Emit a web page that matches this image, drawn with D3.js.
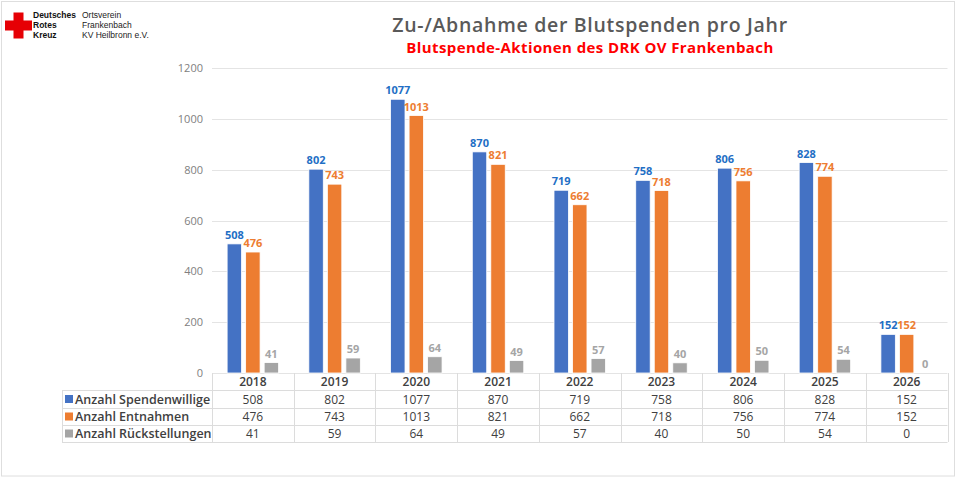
<!DOCTYPE html>
<html>
<head>
<meta charset="utf-8">
<script src="https://cdn.jsdelivr.net/npm/d3@7"></script>
<style>
  body { margin: 0; background: #fff; }
  svg { display: block; font-family: "Open Sans", sans-serif; }
</style>
</head>
<body>
<div id="chart"></div>
<script>
// data
var years = ["2018", "2019", "2020", "2021", "2022", "2023", "2024", "2025", "2026"];
var spendenwillige = [508, 802, 1077, 870, 719, 758, 806, 828, 152];
var entnahmen = [476, 743, 1013, 821, 662, 718, 756, 774, 152];
var rueckstellungen = [41, 59, 64, 49, 57, 40, 50, 54, 0];
var seriesNames = ["Anzahl Spendenwillige", "Anzahl Entnahmen", "Anzahl Rückstellungen"];
var yTicks = [0, 200, 400, 600, 800, 1000, 1200];

var width = 960, height = 478;
var barColors = ["#4472c4", "#ed7d31", "#a5a5a5"];
var labelColors = ["#1f6fc5", "#ed7d31", "#a5a5a5"];

var series = [spendenwillige, entnahmen, rueckstellungen];

var svg = d3.select("#chart").append("svg")
    .attr("width", width)
    .attr("height", height);

// outer frame
svg.append("rect")
    .attr("x", 1.5).attr("y", 1.5)
    .attr("width", 953).attr("height", 474.5)
    .attr("fill", "#fff")
    .attr("stroke", "#dedede");

// logo
var logo = svg.append("g");
logo.append("rect").attr("x", 5).attr("y", 20.5).attr("width", 27).attr("height", 10).attr("fill", "#e60005");
logo.append("rect").attr("x", 13.5).attr("y", 12.5).attr("width", 10).attr("height", 26).attr("fill", "#e60005");
var logoLeft = ["Deutsches", "Rotes", "Kreuz"];
var logoRight = ["Ortsverein", "Frankenbach", "KV Heilbronn e.V."];
logo.selectAll("text.l").data(logoLeft).join("text")
    .attr("x", 33).attr("y", (d, i) => 18 + i * 10)
    .style("font-family", "'Liberation Sans', Arial, sans-serif")
    .style("font-size", "8.5px").style("font-weight", "bold").attr("fill", "#111")
    .text(d => d);
logo.selectAll("text.r").data(logoRight).join("text")
    .attr("x", 82).attr("y", (d, i) => 18 + i * 10)
    .style("font-family", "'Liberation Sans', Arial, sans-serif")
    .style("font-size", "8.5px").attr("fill", "#222")
    .text(d => d);

// titles
svg.append("text")
    .attr("x", 590).attr("y", 32)
    .attr("text-anchor", "middle")
    .style("font-size", "19.5px").style("font-weight", 600)
    .style("letter-spacing", "0.7px")
    .attr("fill", "#595959")
    .text("Zu-/Abnahme der Blutspenden pro Jahr");
svg.append("text")
    .attr("x", 590).attr("y", 53)
    .attr("text-anchor", "middle")
    .style("font-size", "15px").style("font-weight", 700)
    .style("letter-spacing", "0.4px")
    .attr("fill", "#ff0000")
    .text("Blutspende-Aktionen des DRK OV Frankenbach");

// scales
var x = d3.scaleBand().domain(years).range([212, 947.5]).padding(0);
var inner = d3.scaleBand().domain([0, 1, 2])
    .range([x.bandwidth() * 0.185, x.bandwidth() * 0.815])
    .paddingInner(0.22);
var y = d3.scaleLinear().domain([0, 1200]).range([373, 68]);

// grid + y labels
svg.append("g").selectAll("line").data(yTicks).join("line")
    .attr("x1", 212).attr("x2", 947.5)
    .attr("y1", d => Math.round(y(d)) + 0.5).attr("y2", d => Math.round(y(d)) + 0.5)
    .attr("stroke", "#e4e4e4");
svg.append("g").selectAll("text").data(yTicks).join("text")
    .attr("x", 203).attr("y", d => y(d) + 4)
    .attr("text-anchor", "end")
    .style("font-size", "11px").attr("fill", "#808080")
    .text(d => d);

// bars
var groups = svg.append("g").selectAll("g").data(years).join("g")
    .attr("transform", d => "translate(" + x(d) + ",0)");

groups.selectAll("rect")
    .data((d, i) => series.map((s, k) => ({k: k, v: s[i]})))
    .join("rect")
    .attr("x", d => inner(d.k))
    .attr("width", inner.bandwidth())
    .attr("y", d => y(d.v))
    .attr("height", d => y(0) - y(d.v))
    .attr("fill", d => barColors[d.k])
    .attr("stroke", "#fff").attr("stroke-width", 0.8);

groups.selectAll("text")
    .data((d, i) => series.map((s, k) => ({k: k, v: s[i]})))
    .join("text")
    .attr("x", d => inner(d.k) + inner.bandwidth() / 2)
    .attr("y", d => y(d.v) - 5)
    .attr("text-anchor", "middle")
    .style("font-size", "11px").style("font-weight", 700)
    .attr("fill", d => labelColors[d.k])
    .text(d => d.v);

// data table
var rowTop = [373, 390, 408, 425, 442];
var grid = "#dcdcdc";
var table = svg.append("g");
// horizontal lines
table.selectAll("line.h").data(rowTop.slice(1)).join("line")
    .attr("x1", 62).attr("x2", 947.5)
    .attr("y1", d => d + 0.5).attr("y2", d => d + 0.5)
    .attr("stroke", grid);
// vertical lines
var bounds = years.map(d => x(d)).concat([x.range()[1]]);
table.selectAll("line.v").data(bounds).join("line")
    .attr("x1", d => Math.round(d) + 0.5).attr("x2", d => Math.round(d) + 0.5)
    .attr("y1", 373).attr("y2", 442)
    .attr("stroke", grid);
table.append("line")
    .attr("x1", 62.5).attr("x2", 62.5).attr("y1", 390).attr("y2", 442)
    .attr("stroke", grid);

// year header
table.selectAll("text.year").data(years).join("text")
    .attr("x", d => x(d) + x.bandwidth() / 2)
    .attr("y", 386)
    .attr("text-anchor", "middle")
    .style("font-size", "12px").style("font-weight", 600)
    .attr("fill", "#404040")
    .text(d => d);

// rows
seriesNames.forEach(function(name, k) {
  var top = rowTop[k + 1], bottom = rowTop[k + 2];
  var mid = (top + bottom) / 2;
  table.append("rect")
      .attr("x", 65).attr("y", mid - 4)
      .attr("width", 8).attr("height", 8)
      .attr("fill", barColors[k]);
  table.append("text")
      .attr("x", 75).attr("y", mid + 4.5)
      .style("font-size", "12.5px").style("font-weight", 600)
      .attr("fill", "#404040")
      .text(name);
  table.selectAll("text.v" + k).data(series[k]).join("text")
      .attr("x", (d, i) => x(years[i]) + x.bandwidth() / 2)
      .attr("y", mid + 4.5)
      .attr("text-anchor", "middle")
      .style("font-size", "12px").style("font-weight", 500)
      .attr("fill", "#404040")
      .text(d => d);
});
</script>
</body>
</html>
